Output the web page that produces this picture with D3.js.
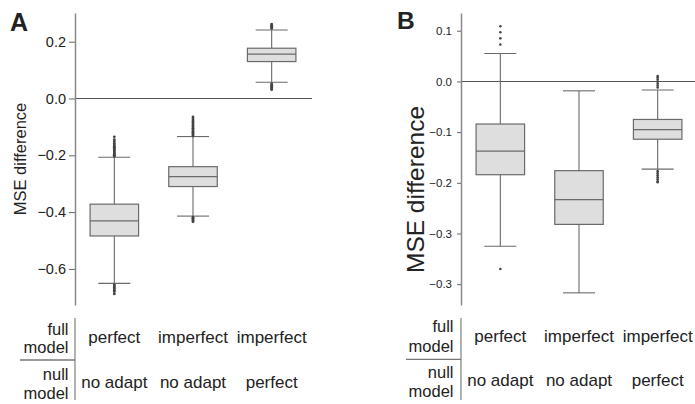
<!DOCTYPE html>
<html>
<head>
<meta charset="utf-8">
<script src="https://cdn.jsdelivr.net/npm/d3@7"></script>
<style>
    body { margin: 0; background: #fff; }
    svg text { font-family: "Liberation Sans", Arial, Helvetica, sans-serif; fill: #222; }
</style>
</head>
<body>
<svg id="chart" width="695" height="404"></svg>
<script>
// column labels of the little table under each panel
var fullModel = ["perfect", "imperfect", "imperfect"];
var nullModel = ["no adapt", "no adapt", "perfect"];

// panel A box stats
var aLow  = [-0.651, -0.414, 0.057];
var aQ1   = [-0.484, -0.310, 0.130];
var aMed  = [-0.431, -0.275, 0.156];
var aQ3   = [-0.372, -0.240, 0.177];
var aHigh = [-0.207, -0.134, 0.241];
var aOutliers = [
    [-0.135, -0.145, -0.152, -0.158, -0.163, -0.168, -0.172, -0.176, -0.180, -0.184, -0.188, -0.192, -0.196, -0.200, -0.204,
     -0.656, -0.660, -0.665, -0.670, -0.675, -0.680, -0.688],
    [-0.065, -0.072, -0.078, -0.084, -0.090, -0.095, -0.100, -0.105, -0.110, -0.115, -0.120, -0.124, -0.128, -0.132,
     -0.418, -0.422, -0.426, -0.430, -0.434],
    [0.246, 0.250, 0.254, 0.258, 0.262, 0.052, 0.047, 0.043, 0.039, 0.035, 0.031]
];
var aTicks = [0.2, 0, -0.2, -0.4, -0.6];
var aTickLabels = ["0.2", "0.0", "\u22120.2", "\u22120.4", "\u22120.6"];

// panel B box stats
var bLow  = [-0.325, -0.417, -0.173];
var bQ1   = [-0.184, -0.282, -0.114];
var bMed  = [-0.1375, -0.233, -0.095];
var bQ3   = [-0.084, -0.176, -0.075];
var bHigh = [0.055, -0.0185, -0.017];
var bOutliers = [
    [0.109, 0.097, 0.085, 0.073, -0.370],
    [],
    [-0.012, -0.008, -0.004, 0.000, 0.004, 0.008, 0.0105, -0.177, -0.181, -0.185, -0.189, -0.193, -0.197, -0.199]
];
var bTicks = [0.1, 0, -0.1, -0.2, -0.3, -0.4];
// the source figure really labels the last tick -0.3 twice
var bTickLabels = ["0.1", "0.0", "\u22120.1", "\u22120.2", "\u22120.3", "\u22120.3"];

function buildBoxes(low, q1, med, q3, high, outliers) {
    return d3.range(low.length).map(function (i) {
        return { i: i, low: low[i], q1: q1[i], med: med[i], q3: q3[i], high: high[i], out: outliers[i] };
    });
}

function drawPanel(opt) {
    var svg = d3.select("#chart");
    var g = svg.append("g");

    var xScale = d3.scaleBand()
        .domain(d3.range(opt.boxes.length))
        .range([opt.left, opt.right])
        .padding(0);

    var yScale = d3.scaleLinear()
        .domain(opt.yDomain)
        .range([305, 13]);

    var cx = function (d) { return xScale(d.i) + xScale.bandwidth() / 2; };
    var boxW = 48.5, capW = 32;

    // zero line
    g.append("line")
        .attr("x1", opt.left).attr("x2", opt.zeroEnd)
        .attr("y1", yScale(0)).attr("y2", yScale(0))
        .attr("stroke", "#555").attr("stroke-width", 1.1);

    var box = g.selectAll(".box")
        .data(opt.boxes)
        .enter()
        .append("g")
        .attr("class", "box");

    // whisker stem
    box.append("line")
        .attr("x1", cx).attr("x2", cx)
        .attr("y1", function (d) { return yScale(d.high); })
        .attr("y2", function (d) { return yScale(d.low); })
        .attr("stroke", "#6a6a6a").attr("stroke-width", 1.1);

    // caps
    ["low", "high"].forEach(function (k) {
        box.append("line")
            .attr("x1", function (d) { return cx(d) - capW / 2; })
            .attr("x2", function (d) { return cx(d) + capW / 2; })
            .attr("y1", function (d) { return yScale(d[k]); })
            .attr("y2", function (d) { return yScale(d[k]); })
            .attr("stroke", "#6a6a6a").attr("stroke-width", 1.1);
    });

    box.append("rect")
        .attr("x", function (d) { return cx(d) - boxW / 2; })
        .attr("y", function (d) { return yScale(d.q3); })
        .attr("width", boxW)
        .attr("height", function (d) { return yScale(d.q1) - yScale(d.q3); })
        .attr("fill", "#dedede")
        .attr("stroke", "#6a6a6a").attr("stroke-width", 1.2);

    box.append("line")
        .attr("x1", function (d) { return cx(d) - boxW / 2; })
        .attr("x2", function (d) { return cx(d) + boxW / 2; })
        .attr("y1", function (d) { return yScale(d.med); })
        .attr("y2", function (d) { return yScale(d.med); })
        .attr("stroke", "#6a6a6a").attr("stroke-width", 1.2);

    box.selectAll("circle")
        .data(function (d) { return d.out.map(function (v) { return { i: d.i, v: v }; }); })
        .enter()
        .append("circle")
        .attr("cx", cx)
        .attr("cy", function (d) { return yScale(d.v); })
        .attr("r", opt.dotR)
        .attr("fill", "#444");

    // y axis
    var yAxis = d3.axisLeft(yScale)
        .tickValues(opt.ticks)
        .tickFormat(function (d, i) { return opt.tickLabels[i]; })
        .tickSize(opt.tickSize)
        .tickSizeOuter(0)
        .tickPadding(opt.tickPad);

    var ax = g.append("g")
        .attr("transform", "translate(" + opt.left + ",0)")
        .call(yAxis);
    ax.select(".domain").attr("stroke", "#888").attr("stroke-width", 1.5);
    ax.selectAll(".tick line").attr("stroke", "#666");
    ax.selectAll(".tick text")
        .attr("font-size", opt.tickFont)
        .attr("fill", "#333")
        .style("font-family", "'Liberation Sans', Arial, sans-serif");

    g.append("text")
        .attr("transform", "translate(" + opt.yLabelX + "," + opt.yLabelY + ") rotate(-90)")
        .attr("text-anchor", "middle")
        .attr("font-size", opt.yLabelFont)
        .attr("fill", "#333")
        .text("MSE difference");

    g.append("text")
        .attr("x", opt.letterX).attr("y", opt.letterY)
        .attr("font-size", opt.letterFont)
        .attr("font-weight", "bold")
        .attr("fill", "#111")
        .text(opt.letter);

    // table below the panel
    var t = opt.table;
    g.append("line")
        .attr("x1", opt.left).attr("x2", opt.left)
        .attr("y1", 318).attr("y2", 400)
        .attr("stroke", "#888").attr("stroke-width", 1.3);
    g.append("line")
        .attr("x1", t.hx).attr("x2", opt.left)
        .attr("y1", t.hy).attr("y2", t.hy)
        .attr("stroke", "#777").attr("stroke-width", 1.3);

    var rowLabels = [["full", t.r1a], ["model", t.r1b], ["null", t.r2a], ["model", t.r2b]];
    rowLabels.forEach(function (r) {
        g.append("text")
            .attr("x", t.labelX).attr("y", r[1])
            .attr("text-anchor", "end")
            .attr("font-size", 16.5)
            .text(r[0]);
    });

    [[fullModel, t.row1], [nullModel, t.row2]].forEach(function (row) {
        g.selectAll(null)
            .data(row[0])
            .enter()
            .append("text")
            .attr("x", function (d, i) { return xScale(i) + xScale.bandwidth() / 2; })
            .attr("y", row[1])
            .attr("text-anchor", "middle")
            .attr("font-size", 17)
            .text(function (d) { return d; });
    });
}

drawPanel({
    letter: "A", letterX: 10, letterY: 31, letterFont: 25,
    boxes: buildBoxes(aLow, aQ1, aMed, aQ3, aHigh, aOutliers),
    left: 75, right: 311, zeroEnd: 312,
    yDomain: [-0.727, 0.301],
    ticks: aTicks, tickLabels: aTickLabels,
    tickSize: 6, tickPad: 3, tickFont: 14.5,
    yLabelX: 26, yLabelY: 159, yLabelFont: 16.5,
    dotR: 1.4,
    table: { labelX: 68.5, r1a: 335, r1b: 353, r2a: 380, r2b: 399, row1: 342.5, row2: 387.5, hx: 20, hy: 360 }
});

drawPanel({
    letter: "B", letterX: 397, letterY: 28.5, letterFont: 24.5,
    boxes: buildBoxes(bLow, bQ1, bMed, bQ3, bHigh, bOutliers),
    left: 461, right: 697, zeroEnd: 695,
    yDomain: [-0.441, 0.135],
    ticks: bTicks, tickLabels: bTickLabels,
    tickSize: 4, tickPad: 5, tickFont: 11.5,
    yLabelX: 423.5, yLabelY: 189.5, yLabelFont: 24.5,
    dotR: 1.3,
    table: { labelX: 453.5, r1a: 331.5, r1b: 351.5, r2a: 378, r2b: 396.5, row1: 341.7, row2: 386, hx: 406, hy: 359.3 }
});
</script>
</body>
</html>
